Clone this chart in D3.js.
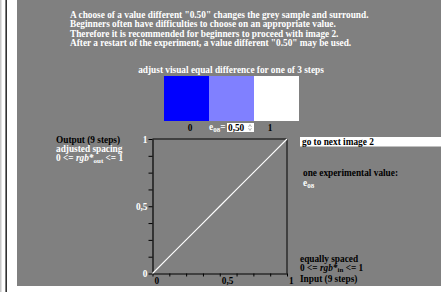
<!DOCTYPE html>
<html>
<head>
<meta charset="utf-8">
<script src="https://cdn.jsdelivr.net/npm/d3@7"></script>
<style>
  body { margin: 0; background: #fff; }
  svg text { font-family: "Liberation Serif", "Times New Roman", serif; font-weight: bold; font-size: 9.3px; }
</style>
</head>
<body>
<div id="chart"></div>
<script>
// data
var introLines = [
  'A choose of a value different "0.50" changes the grey sample and surround.',
  'Beginners often have difficulties to choose on an appropriate value.',
  'Therefore it is recommended for beginners to proceed with image 2.',
  'After a restart of the experiment, a value different "0.50" may be used.'
];
var stepColors = ["#0000ff", "#8080ff", "#ffffff"];
var stepLabels = ["0", "1"];
var inputSteps = [0, 0.125, 0.25, 0.375, 0.5, 0.625, 0.75, 0.875, 1];
var outputSteps = [0, 0.125, 0.25, 0.375, 0.5, 0.625, 0.75, 0.875, 1];
var tickValues = [0, 0.125, 0.25, 0.375, 0.5, 0.625, 0.75, 0.875, 1];
var labeledTicks = { 0: "0", 0.5: "0,5", 1: "1" };

var W = 441, H = 292;
var svg = d3.select("#chart").append("svg")
    .attr("width", W).attr("height", H);

// page frame
svg.append("rect").attr("x", 0).attr("y", 0).attr("width", 1.5).attr("height", H).attr("fill", "#c8c8c8");
svg.append("rect").attr("x", 5.5).attr("y", 0).attr("width", 1.3).attr("height", H).attr("fill", "#000");
svg.append("rect").attr("x", 17).attr("y", 0).attr("width", W - 17).attr("height", 286).attr("fill", "#808080");

// intro text
svg.selectAll(".intro").data(introLines).enter().append("text")
    .attr("x", 70).attr("y", function(d, i) { return 17.5 + i * 9.6; })
    .attr("fill", "#fff").text(function(d) { return d; });

svg.append("text").attr("x", 231).attr("y", 73).attr("text-anchor", "middle")
    .attr("fill", "#fff").text("adjust visual equal difference for one of 3 steps");

// colour steps
var xs = d3.scaleBand().domain(d3.range(stepColors.length)).range([164, 299]);
svg.selectAll(".step").data(stepColors).enter().append("rect")
    .attr("x", function(d, i) { return xs(i); }).attr("y", 76)
    .attr("width", xs.bandwidth()).attr("height", 45)
    .attr("fill", function(d) { return d; });

svg.append("text").attr("x", 190).attr("y", 131).attr("text-anchor", "middle").attr("fill", "#000").text(stepLabels[0]);
svg.append("text").attr("x", 270).attr("y", 131).attr("text-anchor", "middle").attr("fill", "#000").text(stepLabels[1]);
var e = svg.append("text").attr("x", 209).attr("y", 130).attr("fill", "#fff");
e.append("tspan").text("e");
e.append("tspan").attr("dy", 2).style("font-size", "7px").text("08");
e.append("tspan").attr("dy", -2).text("=");
// input box
svg.append("rect").attr("x", 227).attr("y", 123).attr("width", 27).attr("height", 9).attr("fill", "#fff");
svg.append("text").attr("x", 228).attr("y", 131).attr("fill", "#000").text("0,50");
svg.append("path").attr("d", "M248.5,127 L250,124.5 L251.5,127 M248.5,128 L250,130.5 L251.5,128")
    .attr("fill", "none").attr("stroke", "#999").attr("stroke-width", 0.7);

// plot
var x = d3.scaleLinear().domain([0, 1]).range([152.5, 287]);
var y = d3.scaleLinear().domain([0, 1]).range([273.5, 139]);

svg.append("line").attr("x1", x(0)).attr("x2", x(1)).attr("y1", y(1)).attr("y2", y(1)).attr("stroke", "#000");
svg.append("line").attr("x1", x(1)).attr("x2", x(1)).attr("y1", y(0)).attr("y2", y(1)).attr("stroke", "#000");

var yAxis = svg.append("g").attr("transform", "translate(" + x(0) + ",0)")
    .call(d3.axisLeft(y).tickValues(tickValues).tickSize(4).tickSizeOuter(0)
      .tickFormat(function(d) { return labeledTicks[d] || ""; }));
yAxis.select(".domain").attr("stroke", "#000").attr("stroke-width", 1.2);
yAxis.selectAll("line").attr("stroke", "#000");
yAxis.selectAll("text").attr("fill", "#fff").attr("font-size", null).attr("font-family", null)
    .attr("x", -5).attr("dy", "0.34em");

var xAxis = svg.append("g").attr("transform", "translate(0," + y(0) + ")")
    .call(d3.axisBottom(x).tickValues(tickValues).tickSize(3).tickSizeOuter(0)
      .tickFormat(function(d) { return labeledTicks[d] || ""; }));
xAxis.select(".domain").attr("stroke", "#000").attr("stroke-width", 1.2);
xAxis.selectAll("line").attr("stroke", "#000");
xAxis.selectAll("text").attr("fill", "#000").attr("font-size", null).attr("font-family", null)
    .attr("text-anchor", "start").attr("x", 1.5).attr("y", 4).attr("dy", "0.71em");

var line = d3.line().x(function(d, i) { return x(inputSteps[i]); }).y(function(d) { return y(d); });
svg.append("path").datum(outputSteps).attr("d", line)
    .attr("fill", "none").attr("stroke", "#fff").attr("stroke-width", 1.2);

// left labels
svg.append("text").attr("x", 56).attr("y", 142.5).attr("fill", "#000").text("Output (9 steps)");
svg.append("text").attr("x", 56).attr("y", 152).attr("fill", "#fff").text("adjusted spacing");
var o = svg.append("text").attr("x", 56).attr("y", 161).attr("fill", "#fff");
o.append("tspan").text("0 <= ");
o.append("tspan").style("font-style", "italic").text("rgb*");
o.append("tspan").attr("dy", 2).style("font-size", "7px").text("out");
o.append("tspan").attr("dy", -2).text(" <= 1");

// right labels
svg.append("rect").attr("x", 300).attr("y", 137).attr("width", W - 300).attr("height", 9.5).attr("fill", "#fff");
svg.append("text").attr("x", 302).attr("y", 144.5).attr("fill", "#000").text("go to next image 2");
svg.append("text").attr("x", 303).attr("y", 176).attr("fill", "#000").text("one experimental value:");
var v = svg.append("text").attr("x", 303).attr("y", 186).attr("fill", "#fff");
v.append("tspan").text("e");
v.append("tspan").attr("dy", 2).style("font-size", "7px").text("08");

svg.append("text").attr("x", 300).attr("y", 261.5).attr("fill", "#000").text("equally spaced");
var ii = svg.append("text").attr("x", 300).attr("y", 270.5).attr("fill", "#000");
ii.append("tspan").text("0 <= ");
ii.append("tspan").style("font-style", "italic").text("rgb*");
ii.append("tspan").attr("dy", 1.5).style("font-size", "7px").text("in");
ii.append("tspan").attr("dy", -1.5).text(" <= 1");
svg.append("text").attr("x", 300).attr("y", 281.5).attr("fill", "#000").text("Input (9 steps)");
</script>
</body>
</html>
